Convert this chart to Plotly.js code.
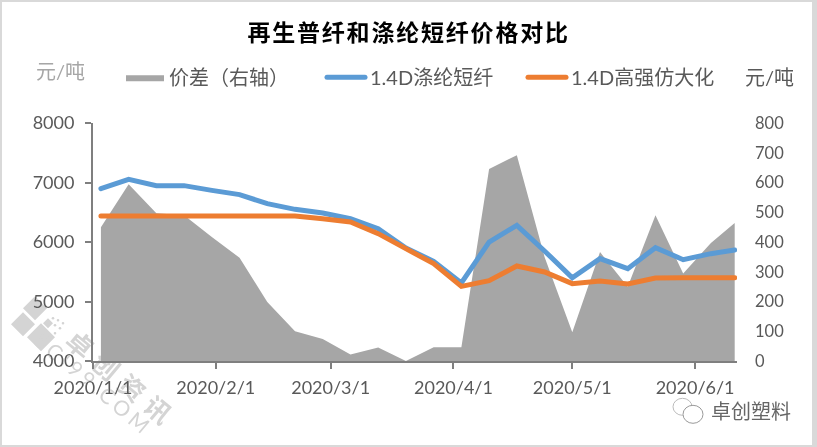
<!DOCTYPE html>
<html><head><meta charset="utf-8">
<script src="https://cdn.plot.ly/plotly-3.0.1.min.js"></script>
<style>
html,body{margin:0;padding:0;width:817px;height:447px;background:#d9d9d9;overflow:hidden}
#chart{position:absolute;left:2px;top:2px;width:810px;height:443px;background:#fff}
.gtitle{letter-spacing:1.8px}
.js-line{stroke-linecap:round}
.legendfill path{stroke:#a6a6a6;stroke-width:3px}
.main-svg{mix-blend-mode:darken}
.annotation[data-index="2"] text{letter-spacing:8px}
.annotation[data-index="3"] text{letter-spacing:4px}
</style></head><body><div id="chart"></div>
<script>
const dates=["2020-01-03","2020-01-10","2020-01-17","2020-01-24","2020-01-31","2020-02-07","2020-02-14","2020-02-21","2020-02-28","2020-03-06","2020-03-13","2020-03-20","2020-03-27","2020-04-03","2020-04-10","2020-04-17","2020-04-24","2020-05-01","2020-05-08","2020-05-15","2020-05-22","2020-05-29","2020-06-05","2020-06-11"];
const spread=[450,594,497,490,417,347,198,100,74,22,45,0,46,46,645,692,350,97,366,250,490,294,397,464];
const polyester=[6896,7053,6947,6947,6868,6796,6644,6549,6487,6392,6224,5900,5675,5311,6000,6280,5849,5400,5720,5552,5905,5703,5804,5866];
const highTenacity=[6437,6437,6437,6437,6437,6437,6437,6437,6392,6336,6140,5877,5636,5255,5350,5597,5496,5300,5345,5294,5395,5400,5400,5400];
const tickDates=["2020-01-01","2020-02-01","2020-03-01","2020-04-01","2020-05-01","2020-06-01"];
const tickLabels=["2020/1/1","2020/2/1","2020/3/1","2020/4/1","2020/5/1","2020/6/1"];
const names=["价差（右轴）","1.4D涤纶短纤","1.4D高强仿大化"];
const titleText="再生普纤和涤纶短纤价格对比";

const W=810,H=443,L=91,R=75,T=120.7,B=84.3;
const px=x=>(x-2-L)/(W-L-R), py=y=>1-(y-2-T)/(H-T-B);
const FF='Lato, "Noto Sans CJK SC", sans-serif';
const CJK='"Noto Sans CJK SC", sans-serif';
function note(x,y,text,size,color,extra){return Object.assign({xref:'paper',yref:'paper',x:px(x),y:py(y),text,showarrow:false,xanchor:'center',yanchor:'middle',font:{family:FF,size,color}},extra||{});}
function diamond(cx,cy,r,color){return {type:'path',layer:'below',xref:'paper',yref:'paper',line:{width:0},fillcolor:color,
 path:`M${px(cx-r)} ${py(cy)}L${px(cx)} ${py(cy-r)}L${px(cx+r)} ${py(cy)}L${px(cx)} ${py(cy+r)}Z`};}
function ring(x0,y0,x1,y1,color,w,fill,layer){return {type:'circle',layer:layer||'above',xref:'paper',yref:'paper',x0:px(x0),x1:px(x1),y0:py(y0),y1:py(y1),line:{color,width:w},fillcolor:fill||'rgba(0,0,0,0)'};}
const wm='#d4d4d4';
const dots=[[53,318],[58,320],[63,323],[55,325],[60,328],[55,333]];

const traces=[
 {x:dates,y:spread,name:names[0],type:'scatter',mode:'lines',fill:'tozeroy',fillcolor:'#a6a6a6',line:{width:0,color:'#a6a6a6'},xaxis:'x',yaxis:'y',hoverinfo:'skip'},
 {x:dates,y:polyester,name:names[1],type:'scatter',mode:'lines',line:{color:'#5b9bd5',width:5},xaxis:'x',yaxis:'y2'},
 {x:dates,y:highTenacity,name:names[2],type:'scatter',mode:'lines',line:{color:'#ed7d31',width:5},xaxis:'x',yaxis:'y2'}
];
const layout={
 width:W,height:H,margin:{l:L,r:R,t:T,b:B,pad:0},paper_bgcolor:'#fff',plot_bgcolor:'rgba(0,0,0,0)',
 font:{family:FF,color:'#595959'},
 title:{text:titleText,x:0.502,xref:'container',xanchor:'center',y:0.93,yanchor:'middle',font:{family:CJK,size:23,color:'#000',weight:700}},
 xaxis:{type:'date',range:["2020-01-01","2020-06-11 14:00"],tickmode:'array',tickvals:tickDates,ticktext:tickLabels,ticks:'outside',ticklen:6,tickwidth:2,tickcolor:'#7f7f7f',showline:true,linecolor:'#7f7f7f',linewidth:2,showgrid:false,zeroline:false,tickfont:{family:FF,size:18,color:'#595959'},ticklabelstandoff:3},
 yaxis:{side:'right',range:[0,800],tickvals:[0,100,200,300,400,500,600,700,800],ticks:'',showline:false,showgrid:false,zeroline:false,tickfont:{family:FF,size:16.5,color:'#595959'},ticklabelstandoff:17},
 yaxis2:{side:'left',overlaying:'y',range:[4000,8000],tickvals:[4000,5000,6000,7000,8000],ticks:'outside',ticklen:6,tickwidth:2,tickcolor:'#7f7f7f',showline:true,linecolor:'#7f7f7f',linewidth:2,showgrid:false,zeroline:false,tickfont:{family:FF,size:18,color:'#595959'},ticklabelstandoff:7},
 showlegend:true,
 legend:{orientation:'h',x:px(121),y:py(77),xanchor:'left',yanchor:'middle',entrywidth:148,entrywidthmode:'pixels',itemwidth:38,itemclick:false,font:{family:FF,size:20,color:'#595959'},traceorder:'normal',bgcolor:'rgba(0,0,0,0)'},
 annotations:[
  note(60,71,'元/吨',20,'#a6a6a6'),
  note(769,77,'元/吨',20,'#595959'),
  note(123,378,'卓创资讯',25,wm,{textangle:40,font:{family:CJK,size:26,color:wm,weight:700}}),
  note(94,383,'SCI99.COM',18,wm,{textangle:40,font:{family:FF,size:21,color:wm}}),
  note(751,410,'卓创塑料',19,'#666',{font:{family:CJK,size:20,color:'#666'}})
 ],
 shapes:[
  diamond(35,308,12,wm),diamond(23,324,12,wm),diamond(41,337,14,wm),diamond(48,323,5,wm)
 ].concat(dots.map(d=>ring(d[0]-1.3,d[1]-1.3,d[0]+1.3,d[1]+1.3,wm,0,wm,'below'))).concat([
  ring(673,398,692,415,'#bbb',1),ring(683,405,703,423,'#999',1,'#fff')
 ])
};
Plotly.newPlot('chart',traces,layout,{displayModeBar:false,staticPlot:true});
</script></body></html>
